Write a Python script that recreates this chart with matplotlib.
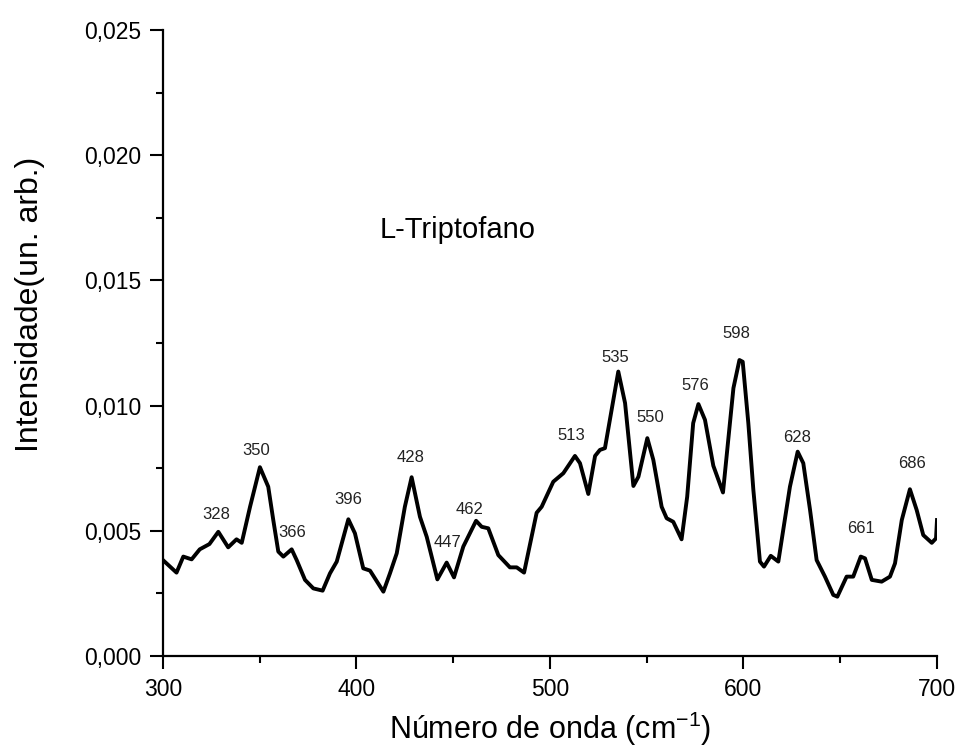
import matplotlib
matplotlib.use('Agg')
import matplotlib.pyplot as plt
from matplotlib.ticker import MultipleLocator, FuncFormatter

plt.rcParams['font.family'] = ['Liberation Sans', 'DejaVu Sans']

# Raman spectrum of L-Triptofano
wavenumber = [300, 307, 310.5, 314.8, 319, 324, 328.6, 333.7, 338, 340.7, 345, 350.1,
              354.4, 357, 359.6, 362.2, 366.5, 369.1, 373.4, 377.7, 382.5, 386.3,
              389.8, 395.8, 399.2, 403.5, 407, 413.9, 417.3, 420.8, 425, 428.5, 432.8,
              436.3, 441.8, 446.6, 450.4, 455.2, 461.8, 464.7, 468.1, 473.3, 479.3,
              482.8, 486.6, 493.1, 495.7, 501.7, 506.9, 512.9, 515.5, 519.8, 523.3,
              525.8, 528.4, 535.3, 538.8, 543.1, 545.7, 550.3, 553.4, 557.7, 560.3,
              563.7, 568, 570.9, 574, 576.7, 580.1, 584.4, 589.4, 594.8, 597.9, 599.6,
              602.5, 605.1, 608.5, 610.6, 614.1, 618, 624, 628, 630.9, 634.4, 637.8,
              642.1, 646.4, 648.5, 653.3, 656.7, 660.6, 662.8, 666.3, 671.4, 675.7,
              678.3, 681.8, 686, 689.5, 692.9, 697.3, 699.5, 700]
intensity = [0.00383, 0.00333, 0.00397, 0.00386, 0.00426, 0.00447, 0.00496, 0.00434,
             0.00466, 0.00452, 0.00596, 0.00754, 0.00676, 0.00543, 0.00417, 0.00397,
             0.00426, 0.00383, 0.00304, 0.00270, 0.00261, 0.00330, 0.00377, 0.00546,
             0.00490, 0.00350, 0.00341, 0.00257, 0.00330, 0.00410, 0.00596, 0.00714,
             0.00556, 0.00476, 0.00306, 0.00373, 0.00314, 0.00437, 0.00540, 0.00516,
             0.00510, 0.00403, 0.00354, 0.00354, 0.00333, 0.00572, 0.00596, 0.00696,
             0.00730, 0.00799, 0.00770, 0.00647, 0.00799, 0.00823, 0.00830, 0.01136,
             0.01010, 0.00679, 0.00716, 0.00870, 0.00783, 0.00596, 0.00550, 0.00536,
             0.00466, 0.00636, 0.00930, 0.01006, 0.00943, 0.00760, 0.00653, 0.01070,
             0.01182, 0.01175, 0.00930, 0.00663, 0.00377, 0.00357, 0.00400, 0.00377,
             0.00676, 0.00816, 0.00770, 0.00583, 0.00383, 0.00317, 0.00244, 0.00237,
             0.00317, 0.00317, 0.00397, 0.00390, 0.00304, 0.00297, 0.00317, 0.00370,
             0.00543, 0.00666, 0.00583, 0.00483, 0.00452, 0.00470, 0.00543]

# peak labels
peaks = [328, 350, 366, 396, 428, 447, 462, 513, 535, 550, 576, 598, 628, 661, 686]
label_x = [327.7, 348.4, 367, 396, 428, 446.8, 458.3, 511.2, 533.9, 552, 574.9,
           596.1, 627.5, 660.6, 686.9]
label_y = [0.00567, 0.00819, 0.00494, 0.00626, 0.00794, 0.00453, 0.00587, 0.00879,
           0.01192, 0.00952, 0.01082, 0.01286, 0.00873, 0.0051, 0.00767]

fig = plt.figure(figsize=(9.57, 7.53), dpi=100)
ax = fig.add_axes([0.1703, 0.1288, 0.8088, 0.8314])

ax.plot(wavenumber, intensity, color='black', lw=2.8, solid_joinstyle='round')

for p, lx, ly in zip(peaks, label_x, label_y):
    ax.text(lx, ly, str(p), ha='center', va='center', fontsize=12, color='#222222')

ax.text(412, 0.0167, 'L-Triptofano', fontsize=21, ha='left', va='baseline')

ax.set_xlim(300, 700)
ax.set_ylim(0, 0.025)
ax.xaxis.set_major_locator(MultipleLocator(100))
ax.xaxis.set_minor_locator(MultipleLocator(50))
ax.yaxis.set_major_locator(MultipleLocator(0.005))
ax.yaxis.set_minor_locator(MultipleLocator(0.0025))
ax.yaxis.set_major_formatter(FuncFormatter(lambda v, pos: f'{v:.3f}'.replace('.', ',')))

ax.spines['top'].set_visible(False)
ax.spines['right'].set_visible(False)
ax.spines['left'].set_linewidth(1.6)
ax.spines['bottom'].set_linewidth(1.6)
ax.tick_params(which='major', direction='out', length=9.5, width=1.5, labelsize=16.5, pad=6)
ax.tick_params(which='minor', direction='out', length=5, width=1.5)

ax.set_xlabel('Número de onda (cm$^{\\mathregular{-1}}$)', fontsize=22)
ax.set_ylabel('Intensidade(un. arb.)', fontsize=23)
ax.xaxis.set_label_coords(0.5, -0.085)
ax.yaxis.set_label_coords(-0.152, 0.561)

fig.savefig('out.png', dpi=100)
